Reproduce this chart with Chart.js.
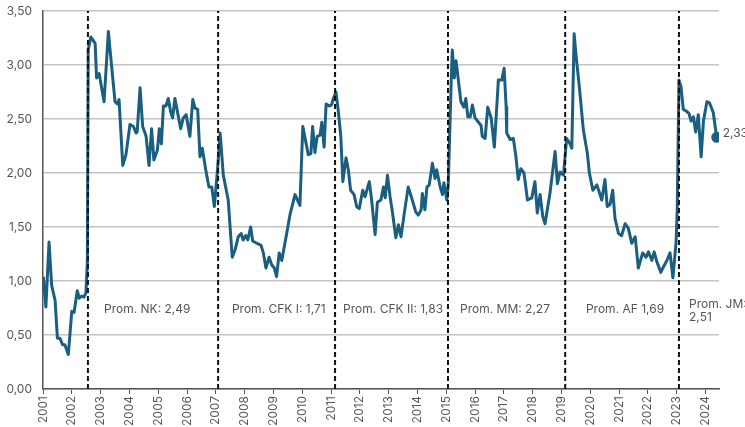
<!DOCTYPE html>
<html>
<head>
<meta charset="utf-8">
<script src="https://cdn.jsdelivr.net/npm/chart.js@4.4.1/dist/chart.umd.min.js"></script>
<style>
  html, body { margin: 0; padding: 0; background: #fff; }
  #wrap { width: 745px; height: 427px; }
</style>
</head>
<body>
<div id="wrap"><canvas id="grafico"></canvas></div>
<script>
// fechas (año decimal) y valores
const fechas = [
  2001.01, 2001.10, 2001.21, 2001.30, 2001.42, 2001.50, 2001.59, 2001.68, 2001.76, 2001.88,
  2002.00, 2002.08, 2002.19, 2002.26, 2002.34, 2002.42, 2002.49, 2002.54, 2002.57,
  2002.66, 2002.81, 2002.86, 2002.95, 2003.12, 2003.27, 2003.36, 2003.50, 2003.58, 2003.64,
  2003.77, 2003.88, 2004.02, 2004.14, 2004.23, 2004.27, 2004.37, 2004.46, 2004.58, 2004.68,
  2004.77, 2004.85, 2004.97, 2005.04, 2005.11, 2005.18, 2005.27, 2005.35, 2005.43, 2005.50,
  2005.58, 2005.68, 2005.78, 2005.87, 2005.97, 2006.10, 2006.20, 2006.28, 2006.37, 2006.45,
  2006.53, 2006.65, 2006.76, 2006.86, 2006.95, 2007.05, 2007.15, 2007.26, 2007.43, 2007.57,
  2007.67, 2007.78, 2007.88, 2007.95, 2008.04, 2008.11, 2008.21, 2008.28, 2008.42, 2008.57,
  2008.65, 2008.74, 2008.85, 2008.94, 2009.03, 2009.11, 2009.20, 2009.29, 2009.46, 2009.58,
  2009.75, 2009.92, 2010.02, 2010.21, 2010.30, 2010.36, 2010.44, 2010.52, 2010.62, 2010.68,
  2010.76, 2010.83, 2010.94, 2011.02, 2011.08, 2011.17, 2011.25, 2011.34, 2011.41, 2011.52,
  2011.60, 2011.68, 2011.80, 2011.89, 2011.98, 2012.10, 2012.18, 2012.33, 2012.41, 2012.53,
  2012.61, 2012.73, 2012.82, 2012.88, 2012.96, 2013.05, 2013.13, 2013.25, 2013.34, 2013.43,
  2013.55, 2013.68, 2013.80, 2013.94, 2014.03, 2014.13, 2014.17, 2014.26, 2014.33, 2014.41,
  2014.52, 2014.61, 2014.67, 2014.79, 2014.87, 2014.92, 2015.02, 2015.07, 2015.17, 2015.21,
  2015.28, 2015.34, 2015.42, 2015.51, 2015.61, 2015.68, 2015.75, 2015.83, 2015.91, 2016.00,
  2016.12, 2016.21, 2016.25, 2016.35, 2016.44, 2016.56, 2016.67, 2016.81, 2016.93, 2017.01,
  2017.08, 2017.10, 2017.22, 2017.33, 2017.42, 2017.50, 2017.59, 2017.70, 2017.82, 2017.97,
  2018.08, 2018.16, 2018.26, 2018.35, 2018.43, 2018.60, 2018.78, 2018.86, 2018.95, 2019.07,
  2019.18, 2019.30, 2019.36, 2019.44, 2019.51, 2019.62, 2019.76, 2019.90, 2019.97, 2020.09,
  2020.23, 2020.40, 2020.51, 2020.59, 2020.69, 2020.78, 2020.86, 2020.98, 2021.09, 2021.21,
  2021.32, 2021.44, 2021.56, 2021.67, 2021.82, 2021.94, 2022.02, 2022.14, 2022.22, 2022.31,
  2022.45, 2022.54, 2022.66, 2022.77, 2022.87, 2022.98, 2023.02, 2023.08, 2023.15, 2023.23,
  2023.35, 2023.43, 2023.50, 2023.58, 2023.66, 2023.75, 2023.85, 2023.93, 2024.05, 2024.14,
  2024.27, 2024.39
];
const tasa = [
  1.04, 0.76, 1.36, 0.96, 0.82, 0.47, 0.47, 0.41, 0.41, 0.32,
  0.72, 0.71, 0.91, 0.84, 0.86, 0.85, 0.89, 1.17, 3.14,
  3.26, 3.20, 2.88, 2.92, 2.66, 3.31, 3.05, 2.66, 2.64, 2.68,
  2.07, 2.17, 2.45, 2.43, 2.37, 2.38, 2.79, 2.43, 2.34, 2.07,
  2.41, 2.12, 2.21, 2.41, 2.27, 2.62, 2.62, 2.69, 2.57, 2.51,
  2.69, 2.55, 2.41, 2.51, 2.54, 2.34, 2.68, 2.60, 2.59, 2.15,
  2.23, 2.03, 1.87, 1.87, 1.69, 2.00, 2.37, 1.98, 1.75, 1.22,
  1.29, 1.41, 1.44, 1.38, 1.42, 1.38, 1.50, 1.37, 1.35, 1.33,
  1.26, 1.12, 1.22, 1.15, 1.12, 1.04, 1.26, 1.19, 1.44, 1.62,
  1.80, 1.70, 2.43, 2.17, 2.18, 2.43, 2.19, 2.34, 2.35, 2.47,
  2.24, 2.64, 2.62, 2.63, 2.69, 2.75, 2.58, 2.34, 1.92, 2.14,
  2.03, 1.84, 1.80, 1.69, 1.67, 1.84, 1.78, 1.92, 1.75, 1.43,
  1.73, 1.75, 1.87, 1.77, 1.98, 1.78, 1.64, 1.40, 1.52, 1.41,
  1.64, 1.87, 1.77, 1.64, 1.61, 1.66, 1.81, 1.66, 1.87, 1.89,
  2.09, 1.95, 2.03, 1.87, 1.80, 1.91, 1.75, 1.89, 2.83, 3.14,
  2.88, 3.04, 2.86, 2.66, 2.61, 2.69, 2.52, 2.52, 2.63, 2.51,
  2.47, 2.44, 2.34, 2.32, 2.61, 2.51, 2.24, 2.86, 2.86, 2.97,
  2.61, 2.37, 2.31, 2.32, 2.15, 1.94, 2.04, 2.00, 1.75, 1.77,
  1.92, 1.63, 1.80, 1.60, 1.53, 1.81, 2.20, 1.90, 2.01, 1.98,
  2.32, 2.27, 2.23, 3.29, 3.08, 2.80, 2.40, 2.18, 2.00, 1.84,
  1.89, 1.75, 1.94, 1.69, 1.71, 1.84, 1.58, 1.44, 1.42, 1.53,
  1.49, 1.35, 1.41, 1.12, 1.26, 1.22, 1.27, 1.19, 1.27, 1.18,
  1.08, 1.13, 1.19, 1.26, 1.03, 1.36, 1.66, 2.86, 2.80, 2.59,
  2.57, 2.55, 2.48, 2.52, 2.38, 2.54, 2.15, 2.48, 2.66, 2.65,
  2.56, 2.33
];

// cambios de gobierno (lineas punteadas)
const cortes = [2002.56, 2007.08, 2011.14, 2015.06, 2019.13, 2023.08];

// textos de promedios
const promTextos = [["Prom. NK: 2,49"], ["Prom. CFK I: 1,71"], ["Prom. CFK II: 1,83"],
  ["Prom. MM: 2,27"], ["Prom. AF 1,69"], ["Prom. JM:", "2,51"]];
const promX = [2003.12, 2007.56, 2011.42, 2015.48, 2019.85, 2023.43];
const promY = [0.74, 0.74, 0.74, 0.74, 0.74, 0.78];

const anios = [2001, 2002, 2003, 2004, 2005, 2006, 2007, 2008, 2009, 2010, 2011, 2012,
  2013, 2014, 2015, 2016, 2017, 2018, 2019, 2020, 2021, 2022, 2023, 2024];
const yTicks = [0, 0.5, 1, 1.5, 2, 2.5, 3, 3.5];

const colorLinea = "#1a5f80";
const colorTexto = "#555555";

const serie = fechas.map((f, i) => ({ x: f, y: tasa[i] }));

const lineasCorte = cortes.map(c => ({
  data: [{ x: c, y: 0 }, { x: c, y: 3.5 }],
  borderColor: "#111111",
  borderWidth: 2,
  borderDash: [5, 3],
  pointRadius: 0,
  order: 0,
}));

// textos sobre el grafico
const textos = {
  id: "textos",
  afterDatasetsDraw(chart) {
    const ctx = chart.ctx;
    const sx = chart.scales.x;
    const sy = chart.scales.y;
    ctx.save();
    ctx.fillStyle = colorTexto;
    ctx.font = "12px Inter";
    ctx.textAlign = "left";
    ctx.textBaseline = "middle";
    promTextos.forEach((lineas, i) => {
      const px = sx.getPixelForValue(promX[i]);
      const py = sy.getPixelForValue(promY[i]);
      lineas.forEach((t, k) => ctx.fillText(t, px, py + k * 13));
    });
    const ult = tasa.length - 1;
    const ex = sx.getPixelForValue(fechas[ult]);
    const ey = sy.getPixelForValue(tasa[ult]);
    ctx.fillText(tasa[ult].toFixed(2).replace(".", ","), ex + 6, ey - 4);
    ctx.restore();
  },
};

const ctx = document.getElementById("grafico").getContext("2d");

const config = {
  type: "line",
  data: {
    datasets: [
      {
        data: serie,
        borderColor: colorLinea,
        backgroundColor: colorLinea,
        borderWidth: 3,
        borderJoinStyle: "round",
        pointRadius: c => (c.dataIndex === tasa.length - 1 ? 4 : 0),
        pointHoverRadius: 0,
        tension: 0,
        order: 1,
      },
    ].concat(lineasCorte),
  },
  options: {
    responsive: true,
    maintainAspectRatio: false,
    animation: false,
    layout: { padding: { left: 0, right: 26, top: 11, bottom: 0 } },
    plugins: { legend: { display: false }, tooltip: { enabled: false } },
    scales: {
      x: {
        type: "linear",
        min: 2001,
        max: 2024.47,
        afterBuildTicks: s => {
          s.ticks = anios.map(v => ({ value: v }));
        },
        afterFit: s => {
          s.height = 38;
          s.paddingLeft = 0;
          s.paddingRight = 0;
        },
        ticks: {
          autoSkip: false,
          minRotation: 90,
          maxRotation: 90,
          padding: 2,
          color: colorTexto,
          font: { family: "Inter", size: 12 },
          callback: v => String(v),
        },
        grid: { drawOnChartArea: false, drawTicks: true, tickLength: 5, color: "#555555" },
        border: { display: true, color: "#555555", width: 1.5 },
      },
      y: {
        min: 0,
        max: 3.5,
        afterBuildTicks: s => {
          s.ticks = yTicks.map(v => ({ value: v }));
        },
        afterFit: s => {
          s.width = 43;
          s.paddingTop = 0;
          s.paddingBottom = 0;
        },
        ticks: {
          padding: 11,
          color: colorTexto,
          font: { family: "Inter", size: 12 },
          callback: v => v.toFixed(2).replace(".", ","),
        },
        grid: { color: "#c4c4c4", lineWidth: 1.5, drawTicks: false },
        border: { display: true, color: "#555555", width: 1.5 },
      },
    },
  },
  plugins: [textos],
};

const miGrafico = new Chart(ctx, config);
</script>
</body>
</html>
